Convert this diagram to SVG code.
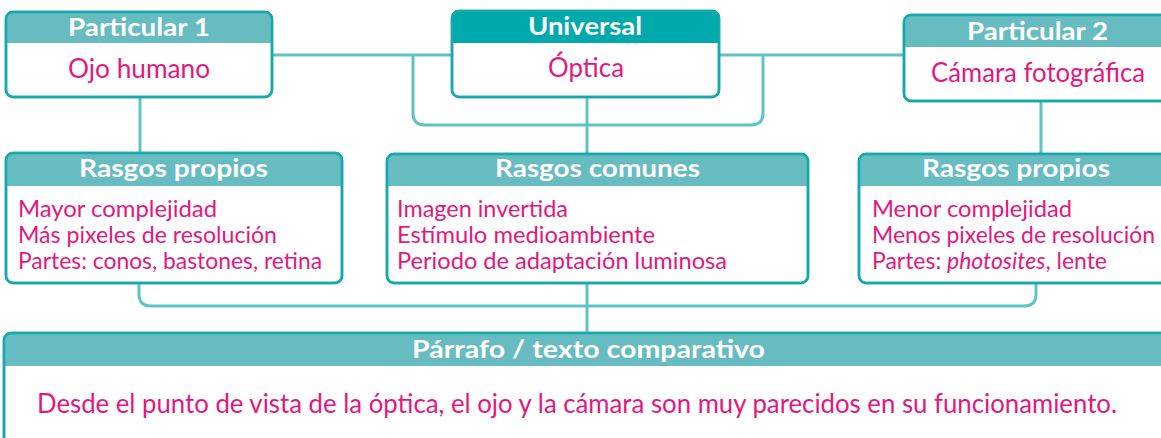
<svg xmlns="http://www.w3.org/2000/svg" width="1161" height="438" viewBox="0 0 1161 438">
<defs>
<style>
.box{fill:#ffffff;stroke:#14a9ad;stroke-width:2.5}
.hd{fill:#66bcc0}
.hdu{fill:#00a9ac}
.ht{font-family:Lato,"Noto Sans",sans-serif;font-weight:bold;font-size:24px;fill:#ffffff}
.lb{font-family:Lato,"Noto Sans",sans-serif;font-size:26px;fill:#e5177e}
.bt{font-family:Lato,"Noto Sans",sans-serif;font-size:23px;fill:#e5177e}
.pt{font-family:Lato,"Noto Sans",sans-serif;font-size:26px;fill:#e5177e}
.cn{fill:none;stroke:#5ec3c6;stroke-width:3}
</style>
<clipPath id="c1"><rect x="6" y="12" width="266" height="85" rx="7"/></clipPath>
<clipPath id="c2"><rect x="452" y="11" width="267" height="86" rx="7"/></clipPath>
<clipPath id="c3"><rect x="904" y="15" width="266" height="86" rx="7"/></clipPath>
<clipPath id="c4"><rect x="6" y="153" width="336" height="130" rx="7"/></clipPath>
<clipPath id="c5"><rect x="387" y="154" width="421" height="129" rx="7"/></clipPath>
<clipPath id="c6"><rect x="859" y="154" width="314" height="129" rx="7"/></clipPath>
<clipPath id="c7"><rect x="4" y="333" width="1170" height="130" rx="7"/></clipPath>
</defs>
<rect width="1161" height="438" fill="#ffffff"/>
<g id="connectors">
<path class="cn" d="M272 55H452M719 55H904"/>
<path class="cn" d="M413 55V113Q413 125 425 125H751Q763 125 763 113V55"/>
<path class="cn" d="M587 97V154"/>
<path class="cn" d="M140 97V153"/>
<path class="cn" d="M1041 101V154"/>
<path class="cn" d="M139 283V294Q139 306 151 306H1024Q1036 306 1036 294V283"/>
<path class="cn" d="M587 283V333"/>
</g>
<g id="particular1">
<rect class="box" x="6" y="12" width="266" height="85" rx="7"/>
<rect class="hd" x="6" y="12" width="266" height="31" clip-path="url(#c1)"/>
<rect class="box" x="6" y="12" width="266" height="85" rx="7" style="fill:none"/>
<text class="ht" x="68" y="36" textLength="142" lengthAdjust="spacingAndGlyphs">Particular 1</text>
<text class="lb" x="68" y="78" textLength="142" lengthAdjust="spacingAndGlyphs">Ojo humano</text>
</g>
<g id="universal">
<rect class="box" x="452" y="11" width="267" height="86" rx="7"/>
<rect class="hdu" x="452" y="11" width="267" height="32" clip-path="url(#c2)"/>
<rect class="box" x="452" y="11" width="267" height="86" rx="7" style="fill:none"/>
<text class="ht" x="528" y="35" textLength="114" lengthAdjust="spacingAndGlyphs">Universal</text>
<text class="lb" x="548" y="77" textLength="76" lengthAdjust="spacingAndGlyphs">Óptica</text>
</g>
<g id="particular2">
<rect class="box" x="904" y="15" width="266" height="86" rx="7"/>
<rect class="hd" x="904" y="15" width="266" height="32" clip-path="url(#c3)"/>
<rect class="box" x="904" y="15" width="266" height="86" rx="7" style="fill:none"/>
<text class="ht" x="967" y="40" textLength="141" lengthAdjust="spacingAndGlyphs">Particular 2</text>
<text class="lb" x="931" y="82" textLength="214" lengthAdjust="spacingAndGlyphs">Cámara fotográfica</text>
</g>
<g id="rasgos-propios-1">
<rect class="box" x="6" y="153" width="336" height="130" rx="7"/>
<rect class="hd" x="6" y="153" width="336" height="33" clip-path="url(#c4)"/>
<rect class="box" x="6" y="153" width="336" height="130" rx="7" style="fill:none"/>
<text class="ht" x="79" y="177" textLength="189" lengthAdjust="spacingAndGlyphs">Rasgos propios</text>
<text class="bt" x="18" y="217" textLength="199" lengthAdjust="spacingAndGlyphs">Mayor complejidad</text>
<text class="bt" x="18" y="243" textLength="259" lengthAdjust="spacingAndGlyphs">Más pixeles de resolución</text>
<text class="bt" x="18" y="269" textLength="304" lengthAdjust="spacingAndGlyphs">Partes: conos, bastones, retina</text>
</g>
<g id="rasgos-comunes">
<rect class="box" x="387" y="154" width="421" height="129" rx="7"/>
<rect class="hd" x="387" y="154" width="421" height="32" clip-path="url(#c5)"/>
<rect class="box" x="387" y="154" width="421" height="129" rx="7" style="fill:none"/>
<text class="ht" x="495" y="177" textLength="205" lengthAdjust="spacingAndGlyphs">Rasgos comunes</text>
<text class="bt" x="397" y="217" textLength="171" lengthAdjust="spacingAndGlyphs">Imagen invertida</text>
<text class="bt" x="397" y="243" textLength="258" lengthAdjust="spacingAndGlyphs">Estímulo medioambiente</text>
<text class="bt" x="397" y="269" textLength="330" lengthAdjust="spacingAndGlyphs">Periodo de adaptación luminosa</text>
</g>
<g id="rasgos-propios-2">
<rect class="box" x="859" y="154" width="314" height="129" rx="7"/>
<rect class="hd" x="859" y="154" width="314" height="32" clip-path="url(#c6)"/>
<rect class="box" x="859" y="154" width="314" height="129" rx="7" style="fill:none"/>
<text class="ht" x="922" y="177" textLength="188" lengthAdjust="spacingAndGlyphs">Rasgos propios</text>
<text class="bt" x="872" y="217" textLength="200" lengthAdjust="spacingAndGlyphs">Menor complejidad</text>
<text class="bt" x="872" y="243" textLength="283" lengthAdjust="spacingAndGlyphs">Menos pixeles de resolución</text>
<text class="bt" x="872" y="269" textLength="235" lengthAdjust="spacingAndGlyphs">Partes: <tspan font-style="italic">photosites</tspan>, lente</text>
</g>
<g id="parrafo">
<rect class="box" x="4" y="333" width="1170" height="130" rx="7"/>
<rect class="hd" x="4" y="333" width="1170" height="33" clip-path="url(#c7)"/>
<rect class="box" x="4" y="333" width="1170" height="130" rx="7" style="fill:none"/>
<text class="ht" x="412" y="358" textLength="353" lengthAdjust="spacingAndGlyphs">Párrafo / texto comparativo</text>
<text class="pt" x="37" y="413" textLength="1080" lengthAdjust="spacingAndGlyphs">Desde el punto de vista de la óptica, el ojo y la cámara son muy parecidos en su funcionamiento.</text>
</g>
</svg>
